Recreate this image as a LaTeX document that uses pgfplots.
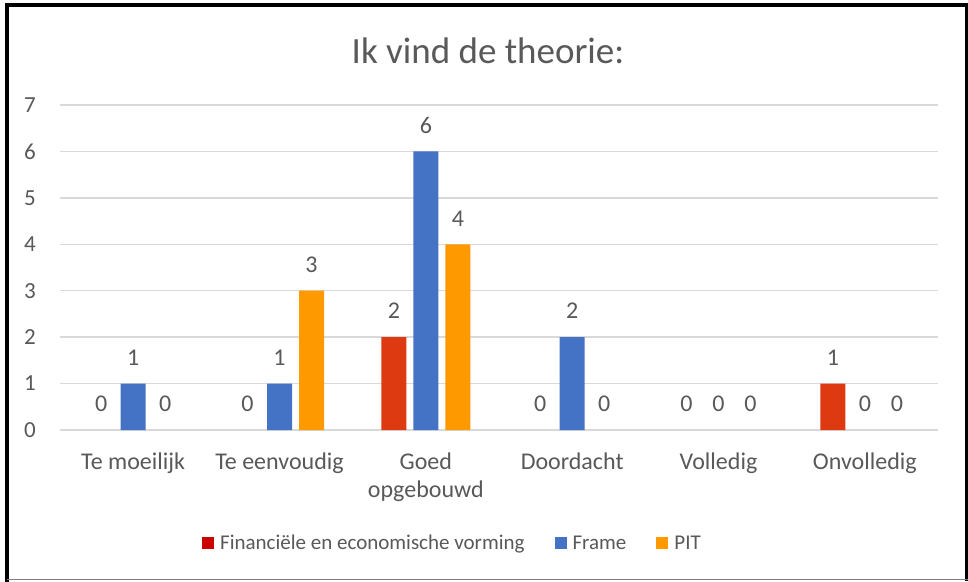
\documentclass[border=0pt]{standalone}
\usepackage{fontspec}
\setmainfont{Carlito}
\usepackage{pgfplots}
\pgfplotsset{compat=1.18}

\definecolor{fevred}{HTML}{DE3A12}
\definecolor{fevlegend}{HTML}{CC0000}
\definecolor{frameblue}{HTML}{4472C4}
\definecolor{pitorange}{HTML}{FF9900}
\definecolor{txtgray}{HTML}{595959}
\definecolor{gridgray}{HTML}{D9D9D9}

\begin{document}
\begin{tikzpicture}[x=1pt,y=1pt]
\useasboundingbox (0,0) rectangle (968,581);
\fill[white] (0,0) rectangle (968,581);
% chart frame
\draw[line width=4pt] (7,-1) -- (7,575.5) -- (968,575.5);
\draw[line width=3pt] (966.5,0) -- (966.5,577);
\draw[line width=1pt, gray] (7,1.5) -- (968,1.5);

\node[text=txtgray, font=\fontsize{37}{42}\selectfont] at (488,530) {Ik vind de theorie:};

\begin{axis}[
    at={(60pt,151pt)}, anchor=south west,
    width=878pt, height=325pt, scale only axis,
    ymin=0, ymax=7, ytick={0,...,7},
    xmin=-0.5, xmax=5.5, xtick={0,...,5},
    xticklabels={Te moeilijk, Te eenvoudig, {Goed\\opgebouwd}, Doordacht, Volledig, Onvolledig},
    axis line style={draw=none},
    tick style={draw=none},
    ymajorgrids,
    grid style={gridgray, line width=1.3pt},
    ybar, bar width=25pt,
    /pgf/number format/assume math mode=true,
    tick label style={text=txtgray},
    xticklabel style={font=\fontsize{24}{28}\selectfont, align=center, inner sep=0pt, yshift=-18pt},
    yticklabel style={font=\fontsize{23}{28}\selectfont, inner sep=0pt, xshift=-24pt},
    nodes near coords,
    every node near coord/.append style={font=\fontsize{24}{28}\selectfont, text=txtgray, inner sep=0pt, yshift=18pt},
    every axis plot post/.append style={legend image code/.code={\fill[##1] (0pt,-6pt) rectangle (12pt,6pt);}},
    legend style={at={(0.447,-0.348)}, anchor=center, legend columns=3, draw=none, fill=none,
        font=\fontsize{21}{25}\selectfont, text=txtgray,
        /tikz/every odd column/.append style={column sep=4pt},
        /tikz/every even column/.append style={column sep=28pt}},
]
% Financiele en economische vorming
\addplot[draw=none, fill=fevred, bar shift=-32pt, legend image post style={fill=fevlegend}] coordinates {(2,2) (5,1)};
\addlegendentry{Financiële en economische vorming}
% Frame
\addplot[draw=none, fill=frameblue, bar shift=0pt] coordinates {(0,1) (1,1) (2,6) (3,2)};
\addlegendentry{Frame}
% PIT
\addplot[draw=none, fill=pitorange, bar shift=32pt] coordinates {(1,3) (2,4)};
\addlegendentry{PIT}
% zero values: labels only
\addplot[draw=none, fill=none, bar shift=-32pt, forget plot] coordinates {(0,0) (1,0) (3,0) (4,0)};
\addplot[draw=none, fill=none, bar shift=0pt, forget plot] coordinates {(4,0) (5,0)};
\addplot[draw=none, fill=none, bar shift=32pt, forget plot] coordinates {(0,0) (3,0) (4,0) (5,0)};
\end{axis}
\end{tikzpicture}
\end{document}
